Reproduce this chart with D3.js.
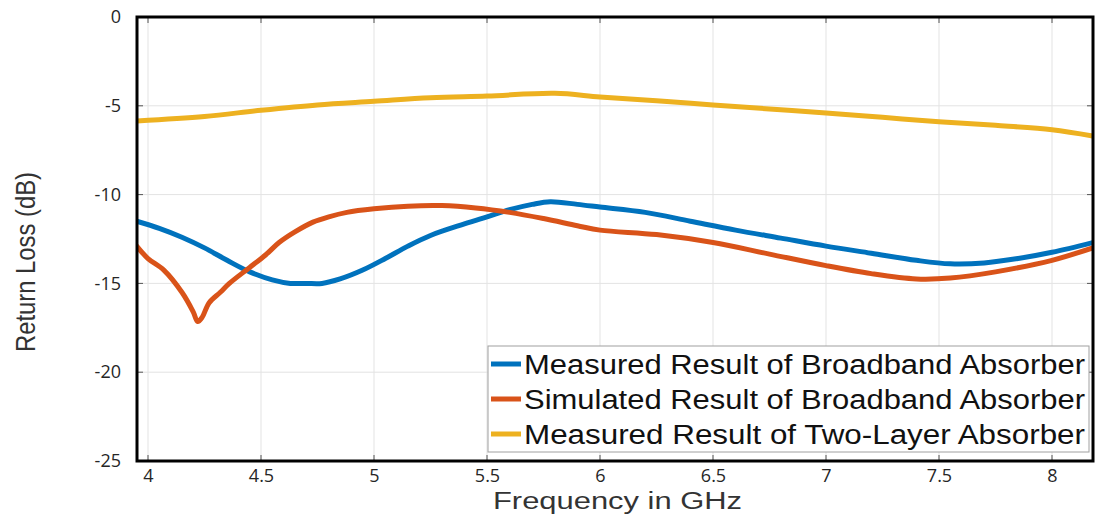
<!DOCTYPE html>
<html><head><meta charset="utf-8">
<script src="https://cdn.jsdelivr.net/npm/d3@7"></script>
<style>body{margin:0;background:#fff}svg{display:block}</style>
</head><body>
<svg id="c" width="1097" height="515"></svg>
<script>
const xTicks = [4, 4.5, 5, 5.5, 6, 6.5, 7, 7.5, 8];
const yTicks = [0, -5, -10, -15, -20, -25];
const seriesNames = ["Measured Result of Broadband Absorber", "Simulated Result of Broadband Absorber", "Measured Result of Two-Layer Absorber"];
const seriesColors = ["#0072BD", "#D95319", "#EDB120"];

const measuredFreq = [3.95, 4.05, 4.15, 4.25, 4.35, 4.45, 4.55, 4.63, 4.7, 4.77, 4.85, 4.95, 5.05, 5.15, 5.25, 5.4, 5.5, 5.6, 5.7, 5.78, 5.9, 6.0, 6.2, 6.4, 6.6, 6.8, 7.0, 7.2, 7.4, 7.55, 7.7, 7.85, 8.0, 8.18];
const measuredLoss = [-11.5, -11.9, -12.4, -13.0, -13.7, -14.35, -14.8, -15.0, -15.0, -15.0, -14.75, -14.25, -13.6, -12.9, -12.3, -11.65, -11.25, -10.85, -10.55, -10.4, -10.55, -10.7, -11.0, -11.5, -12.0, -12.45, -12.9, -13.3, -13.7, -13.9, -13.85, -13.6, -13.25, -12.7];

const simFreq = [3.95, 4.0, 4.07, 4.15, 4.2, 4.22, 4.24, 4.27, 4.32, 4.36, 4.45, 4.52, 4.58, 4.65, 4.73, 4.8, 4.88, 5.0, 5.15, 5.3, 5.45, 5.6, 5.75, 5.9, 6.0, 6.25, 6.5, 6.75, 7.0, 7.2, 7.4, 7.55, 7.75, 8.0, 8.18];
const simLoss = [-12.9, -13.6, -14.25, -15.5, -16.6, -17.15, -16.9, -16.1, -15.5, -15.0, -14.1, -13.4, -12.7, -12.1, -11.55, -11.25, -11.0, -10.8, -10.65, -10.62, -10.75, -11.0, -11.35, -11.75, -12.0, -12.25, -12.7, -13.35, -14.0, -14.45, -14.75, -14.7, -14.35, -13.7, -13.0];

const twoLayerFreq = [3.95, 4.25, 4.5, 4.75, 5.0, 5.25, 5.5, 5.8, 6.0, 6.25, 6.5, 6.75, 7.0, 7.25, 7.5, 7.75, 8.0, 8.18];
const twoLayerLoss = [-5.85, -5.6, -5.25, -4.95, -4.75, -4.55, -4.45, -4.3, -4.5, -4.72, -4.95, -5.18, -5.4, -5.65, -5.9, -6.1, -6.35, -6.7];

const svg = d3.select("#c");
const L = 137, R = 1093, T = 17, B = 461;
const x = d3.scaleLinear().domain([4, 8]).range([148, 1052]);
const y = d3.scaleLinear().domain([0, -25]).range([T, B]);

// gridlines
const g = svg.append("g");
g.selectAll(".gx").data(xTicks).enter().append("line")
  .attr("x1", d => x(d)).attr("x2", d => x(d)).attr("y1", T).attr("y2", B)
  .attr("stroke", "#e3e3e3").attr("stroke-width", 1);
g.selectAll(".gy").data(yTicks).enter().append("line")
  .attr("x1", L).attr("x2", R).attr("y1", d => y(d)).attr("y2", d => y(d))
  .attr("stroke", "#e3e3e3").attr("stroke-width", 1);

// axes via d3
const xAxis = d3.axisBottom(x).tickValues(xTicks).tickSize(0).tickPadding(8).tickFormat(d3.format("~g"));
const yAxis = d3.axisLeft(y).tickValues(yTicks).tickSize(0).tickPadding(16).tickFormat(d => d === 0 ? "0" : "-" + Math.abs(d));
const xa = svg.append("g").attr("transform", `translate(0,${B})`).call(xAxis);
const ya = svg.append("g").attr("transform", `translate(${L},0)`).call(yAxis);
[xa, ya].forEach(a => {
  a.select(".domain").remove();
  a.selectAll("text").attr("font-family", "Open Sans, sans-serif").attr("font-size", 18).attr("fill", "#262626");
});

// inner tick marks
svg.append("g").selectAll("line").data(xTicks).enter().append("line")
  .attr("x1", d => x(d)).attr("x2", d => x(d)).attr("y1", B).attr("y2", B - 6).attr("stroke", "#555").attr("stroke-width", 1);
svg.append("g").selectAll("line").data(xTicks).enter().append("line")
  .attr("x1", d => x(d)).attr("x2", d => x(d)).attr("y1", T).attr("y2", T + 6).attr("stroke", "#555").attr("stroke-width", 1);
svg.append("g").selectAll("line").data(yTicks).enter().append("line")
  .attr("x1", L).attr("x2", L + 6).attr("y1", d => y(d)).attr("y2", d => y(d)).attr("stroke", "#555").attr("stroke-width", 1);
svg.append("g").selectAll("line").data(yTicks).enter().append("line")
  .attr("x1", R).attr("x2", R - 6).attr("y1", d => y(d)).attr("y2", d => y(d)).attr("stroke", "#555").attr("stroke-width", 1);

// curves
const clip = svg.append("clipPath").attr("id", "clip").append("rect")
  .attr("x", L).attr("y", T).attr("width", R - L).attr("height", B - T);
const line = d3.line().x(d => x(d[0])).y(d => y(d[1])).curve(d3.curveCatmullRom.alpha(0.5));
const series = [
  [measuredFreq, measuredLoss],
  [simFreq, simLoss],
  [twoLayerFreq, twoLayerLoss]
];
const plot = svg.append("g").attr("clip-path", "url(#clip)");
[2, 0, 1].forEach(i => {
  const pts = series[i][0].map((f, k) => [f, series[i][1][k]]);
  plot.append("path").datum(pts).attr("d", line)
    .attr("fill", "none").attr("stroke", seriesColors[i]).attr("stroke-width", 5)
    .attr("stroke-linejoin", "round").attr("stroke-linecap", "round");
});

// box
svg.append("rect").attr("x", L).attr("y", T).attr("width", R - L).attr("height", B - T)
  .attr("fill", "none").attr("stroke", "#000").attr("stroke-width", 3);

// legend
const lg = svg.append("g");
lg.append("rect").attr("x", 488).attr("y", 346).attr("width", 601).attr("height", 106)
  .attr("fill", "#fff").attr("stroke", "#a0a0a0").attr("stroke-width", 1);
seriesNames.forEach((n, i) => {
  const cy = 364 + i * 35;
  lg.append("line").attr("x1", 491).attr("x2", 521).attr("y1", cy).attr("y2", cy)
    .attr("stroke", seriesColors[i]).attr("stroke-width", 5);
  lg.append("text").attr("x", 524).attr("y", cy + 9.5).text(n)
    .attr("font-family", "Liberation Sans, Arial, sans-serif").attr("font-size", 27).attr("fill", "#111")
    .attr("textLength", 561).attr("lengthAdjust", "spacingAndGlyphs");
});

// axis labels
svg.append("text").attr("x", 493).attr("y", 509).text("Frequency in GHz")
  .attr("font-family", "Liberation Sans, Arial, sans-serif").attr("font-size", 23).attr("fill", "#333")
  .attr("textLength", 249).attr("lengthAdjust", "spacingAndGlyphs");
svg.append("text").attr("transform", "translate(35,262) rotate(-90)").attr("text-anchor", "middle")
  .text("Return Loss (dB)")
  .attr("font-family", "Liberation Sans, Arial, sans-serif").attr("font-size", 28).attr("fill", "#333")
  .attr("textLength", 180).attr("lengthAdjust", "spacingAndGlyphs");
</script>
</body></html>
